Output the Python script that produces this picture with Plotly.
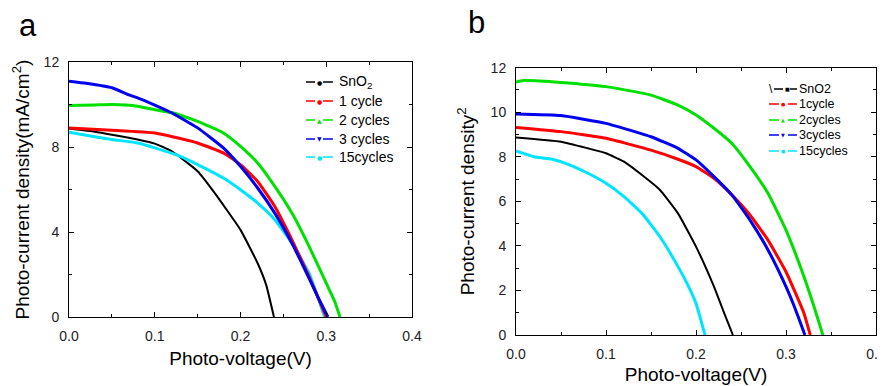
import plotly.graph_objects as go

# ---------------- Data: panel a ----------------
a_sno2_v = [0.0, 0.03, 0.05, 0.08, 0.10, 0.12, 0.15, 0.17, 0.20, 0.22, 0.23, 0.239]
a_sno2_j = [8.87, 8.72, 8.58, 8.35, 8.16, 7.80, 6.86, 5.83, 4.10, 2.53, 1.50, 0.0]

a_c1_v = [0.0, 0.05, 0.10, 0.13, 0.15, 0.18, 0.20, 0.22, 0.24, 0.26, 0.28, 0.29, 0.300]
a_c1_j = [8.90, 8.79, 8.66, 8.40, 8.19, 7.72, 7.17, 6.38, 5.20, 3.63, 1.90, 0.96, 0.0]

a_c2_v = [0.0, 0.03, 0.05, 0.08, 0.10, 0.12, 0.15, 0.18, 0.20, 0.22, 0.24, 0.26, 0.28, 0.30, 0.31, 0.316]
a_c2_j = [9.95, 9.98, 10.0, 9.92, 9.75, 9.62, 9.21, 8.66, 8.03, 7.25, 6.15, 4.89, 3.32, 1.59, 0.72, 0.0]

a_c3_v = [0.0, 0.02, 0.05, 0.07, 0.08, 0.10, 0.12, 0.15, 0.18, 0.20, 0.22, 0.24, 0.26, 0.28, 0.29, 0.302]
a_c3_j = [11.10, 11.00, 10.79, 10.45, 10.31, 9.97, 9.60, 8.90, 7.96, 7.09, 6.07, 4.89, 3.47, 1.82, 0.96, 0.0]

a_c15_v = [0.0, 0.02, 0.05, 0.08, 0.10, 0.13, 0.15, 0.18, 0.20, 0.22, 0.24, 0.26, 0.28, 0.29, 0.298]
a_c15_j = [8.70, 8.55, 8.35, 8.19, 7.96, 7.56, 7.17, 6.54, 5.99, 5.36, 4.58, 3.47, 2.06, 0.96, 0.0]

# ---------------- Data: panel b ----------------
b_sno2_v = [0.0, 0.05, 0.08, 0.10, 0.12, 0.14, 0.16, 0.18, 0.20, 0.22, 0.23, 0.241]
b_sno2_j = [8.87, 8.68, 8.38, 8.16, 7.78, 7.18, 6.51, 5.46, 3.97, 2.17, 1.12, 0.0]

b_c1_v = [0.0, 0.05, 0.10, 0.15, 0.18, 0.20, 0.22, 0.24, 0.26, 0.28, 0.30, 0.32, 0.327]
b_c1_j = [9.32, 9.13, 8.83, 8.30, 7.89, 7.56, 7.03, 6.28, 5.39, 4.26, 2.84, 0.97, 0.0]

b_c2_v = [0.0, 0.01, 0.05, 0.10, 0.15, 0.18, 0.20, 0.22, 0.24, 0.26, 0.28, 0.30, 0.32, 0.33, 0.341]
b_c2_j = [11.36, 11.42, 11.34, 11.15, 10.77, 10.32, 9.88, 9.28, 8.60, 7.56, 6.36, 4.71, 2.62, 1.42, 0.0]

b_c3_v = [0.0, 0.05, 0.10, 0.15, 0.18, 0.20, 0.22, 0.24, 0.26, 0.28, 0.30, 0.31, 0.321]
b_c3_j = [9.92, 9.85, 9.50, 8.90, 8.38, 7.86, 7.11, 6.28, 5.16, 3.82, 2.17, 1.20, 0.0]

b_c15_v = [0.0, 0.02, 0.04, 0.06, 0.08, 0.10, 0.12, 0.14, 0.16, 0.18, 0.19, 0.20, 0.21]
b_c15_j = [8.26, 8.00, 7.89, 7.63, 7.26, 6.81, 6.21, 5.46, 4.41, 3.07, 2.32, 1.42, 0.0]

a_names = ["SnO<sub>2</sub>", "1 cycle", "2 cycles", "3 cycles", "15cycles"]
b_names = ["SnO2", "1cycle", "2cycles", "3cycles", "15cycles"]
colors = ["#000000", "#ff0000", "#00e000", "#0000ee", "#00e5ff"]
legend_marks = ["●", "●", "▲", "▼", "●"]

a_data = [(a_sno2_v, a_sno2_j), (a_c1_v, a_c1_j), (a_c2_v, a_c2_j), (a_c3_v, a_c3_j), (a_c15_v, a_c15_j)]
b_data = [(b_sno2_v, b_sno2_j), (b_c1_v, b_c1_j), (b_c2_v, b_c2_j), (b_c3_v, b_c3_j), (b_c15_v, b_c15_j)]

FONT = "Liberation Sans, Arial, sans-serif"
W, H = 877, 378   # page has an 8px body margin; figure fills the rest of the 885x386 window
OFF = 8

def px(xp):
    return (xp - OFF) / W

def py(yp):
    return 1 - (yp - OFF) / H

fig = go.Figure()

order = [0, 4, 1, 2, 3]
for i in order:
    v, j = a_data[i]
    fig.add_trace(go.Scatter(x=v, y=j, mode="lines",
                             line=dict(color=colors[i], width=2 if i == 0 else 3, shape="spline", smoothing=0.4),
                             showlegend=False, xaxis="x", yaxis="y", hoverinfo="skip"))
for i in order:
    v, j = b_data[i]
    fig.add_trace(go.Scatter(x=v, y=j, mode="lines",
                             line=dict(color=colors[i], width=2 if i == 0 else 3, shape="spline", smoothing=0.4),
                             showlegend=False, xaxis="x2", yaxis="y2", hoverinfo="skip"))

axis_common = dict(showline=True, linecolor="black", linewidth=1, mirror="allticks",
                   ticks="inside", ticklen=5, tickcolor="black", showgrid=False, zeroline=False,
                   automargin=False, ticklabeloverflow="allow",
                   tickfont=dict(family=FONT, size=14, color="#222"))

shapes = []
annotations = []

# manual legend, panel a
a_rows = [82, 101, 120, 139, 157]
for i in range(5):
    y = py(a_rows[i])
    for (x0, x1) in [(306, 315), (323, 333)]:
        shapes.append(dict(type="line", xref="paper", yref="paper", x0=px(x0), x1=px(x1), y0=y, y1=y,
                           line=dict(color=colors[i], width=1.5)))
    annotations.append(dict(text=legend_marks[i], x=px(319), y=y, xref="paper", yref="paper", showarrow=False,
                            xanchor="center", yanchor="middle", font=dict(size=6, color=colors[i], family="DejaVu Sans")))
    annotations.append(dict(text=a_names[i], x=px(337), y=y, xref="paper", yref="paper", showarrow=False,
                            xanchor="left", yanchor="middle", font=dict(size=14, color="black", family=FONT)))

# manual legend, panel b
b_rows = [89, 104, 120, 135, 151]
for i in range(5):
    y = py(b_rows[i])
    if i == 0:
        segs, mx = [(774, 783), (790, 797)], 787
    else:
        segs, mx = [(769, 779), (788, 797)], 783
    for (x0, x1) in segs:
        shapes.append(dict(type="line", xref="paper", yref="paper", x0=px(x0), x1=px(x1), y0=y, y1=y,
                           line=dict(color=colors[i], width=1.5)))
    annotations.append(dict(text="■" if i == 0 else legend_marks[i], x=px(mx), y=y, xref="paper", yref="paper",
                            showarrow=False, xanchor="center", yanchor="middle",
                            font=dict(size=5, color=colors[i], family="DejaVu Sans")))
    annotations.append(dict(text=b_names[i], x=px(797), y=y, xref="paper", yref="paper", showarrow=False,
                            xanchor="left", yanchor="middle", font=dict(size=12.5, color="black", family=FONT)))
annotations.append(dict(text="\\", x=px(771), y=py(89), xref="paper", yref="paper", showarrow=False,
                        xanchor="center", yanchor="middle", font=dict(family=FONT, size=12, color="black")))

# panel letters
annotations.append(dict(text="a", x=px(28), y=py(25), xref="paper", yref="paper", showarrow=False,
                        xanchor="center", yanchor="middle", font=dict(family=FONT, size=31, color="black")))
annotations.append(dict(text="b", x=px(476), y=py(23), xref="paper", yref="paper", showarrow=False,
                        xanchor="center", yanchor="middle", font=dict(family=FONT, size=31, color="black")))

fig.update_layout(
    width=W, height=H,
    margin=dict(l=0, r=0, t=0, b=0, autoexpand=False),
    paper_bgcolor="white", plot_bgcolor="white",
    font=dict(family=FONT, color="black"),
    showlegend=False,
    xaxis=dict(domain=[px(69), px(412)], range=[0, 0.4], dtick=0.1, tickformat=".1f",
               minor=dict(dtick=0.05, ticks="inside", ticklen=3, tickcolor="black"),
               title=dict(text="Photo-voltage(V)", font=dict(family=FONT, size=19), standoff=8),
               ticklabelstandoff=6, anchor="y", **axis_common),
    yaxis=dict(domain=[py(317), py(62)], range=[0, 12], dtick=4,
               minor=dict(dtick=2, ticks="inside", ticklen=3, tickcolor="black"),
               title=dict(text="Photo-current density(mA/cm<sup>2</sup>)", font=dict(family=FONT, size=19), standoff=8),
               ticklabelstandoff=6, anchor="x", **axis_common),
    xaxis2=dict(domain=[px(516), px(876)], range=[0, 0.4], dtick=0.1, tickformat=".1f",
                minor=dict(dtick=0.05, ticks="inside", ticklen=3, tickcolor="black"),
                title=dict(text="Photo-voltage(V)", font=dict(family=FONT, size=19), standoff=6),
                ticklabelstandoff=6, anchor="y2", **axis_common),
    yaxis2=dict(domain=[py(335), py(67.7)], range=[0, 12], dtick=2,
                minor=dict(dtick=1, ticks="inside", ticklen=3, tickcolor="black"),
                title=dict(text="Photo-current density<sup>2</sup>", font=dict(family=FONT, size=19), standoff=10),
                ticklabelstandoff=6, anchor="x2", **axis_common),
    shapes=shapes,
    annotations=annotations,
)

fig.write_html("out.html")
